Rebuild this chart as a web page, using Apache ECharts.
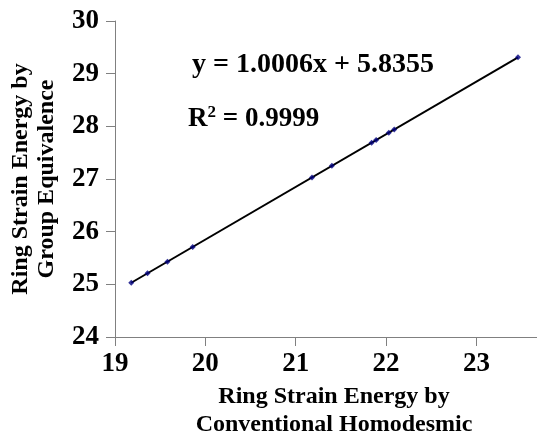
<!DOCTYPE html>
<html>
<head>
<meta charset="utf-8">
<script src="https://cdn.jsdelivr.net/npm/echarts@6/dist/echarts.min.js"></script>
<style>html,body{margin:0;padding:0;background:#fff;}#chart{width:537px;height:431px;}</style>
</head>
<body>
<div id="chart"></div>
<script>
const xValues = [19.18, 19.36, 19.58, 19.86, 21.18, 21.40, 21.84, 21.89, 22.03, 22.09, 23.46];
const yValues = [25.03, 25.21, 25.43, 25.71, 27.03, 27.25, 27.69, 27.74, 27.88, 27.94, 29.31];
const trendX = [19.18, 23.46];
const trendY = [25.03, 29.31];
const xTicks = [19, 20, 21, 22, 23];
const yTicks = [24, 25, 26, 27, 28, 29, 30];
const xAxisName = 'Ring Strain Energy by\nConventional Homodesmic';
const yAxisName = 'Ring Strain Energy by\nGroup Equivalence';
const equationText = 'y = 1.0006x + 5.8355';
const r2Value = '0.9999';

const FONT = '"Liberation Serif", "Times New Roman", serif';
const chart = echarts.init(document.getElementById('chart'), null, {renderer: 'canvas'});
chart.setOption({
  animation: false,
  backgroundColor: '#ffffff',
  grid: {left: 115, right: 0, top: 21, bottom: 94, containLabel: false, outerBoundsMode: 'none'},
  xAxis: {
    type: 'value', min: 19, max: 23.67, interval: 1,
    axisLine: {show: true, lineStyle: {color: '#808080', width: 1}},
    axisTick: {show: true, length: 9, customValues: xTicks, lineStyle: {color: '#808080'}},
    axisLabel: {customValues: xTicks, margin: 14, color: '#000', fontFamily: FONT, fontWeight: 'bold', fontSize: 27},
    splitLine: {show: false},
    name: xAxisName, nameLocation: 'middle', nameGap: 44,
    nameTextStyle: {color: '#000', fontFamily: FONT, fontWeight: 'bold', fontSize: 24, lineHeight: 28, padding: [0, 0, 0, 16]}
  },
  yAxis: {
    type: 'value', min: 24, max: 30, interval: 1,
    axisLine: {show: true, lineStyle: {color: '#808080', width: 1}},
    axisTick: {show: true, length: 9, customValues: yTicks, lineStyle: {color: '#808080'}},
    axisLabel: {customValues: yTicks, margin: 16, color: '#000', fontFamily: FONT, fontWeight: 'bold', fontSize: 27},
    splitLine: {show: false},
    name: yAxisName, nameLocation: 'middle', nameGap: 55,
    nameTextStyle: {color: '#000', fontFamily: FONT, fontWeight: 'bold', fontSize: 24, lineHeight: 26}
  },
  graphic: [
    {type: 'text', left: 192, top: 51, style: {text: equationText, fill: '#000', font: 'bold 28px ' + FONT}},
    {type: 'text', left: 188, top: 104, style: {
      text: '{a|R}{s|2}{a| = ' + r2Value + '}',
      rich: {
        a: {fill: '#000', fontFamily: FONT, fontWeight: 'bold', fontSize: 27, verticalAlign: 'bottom'},
        s: {fill: '#000', fontFamily: FONT, fontWeight: 'bold', fontSize: 17, verticalAlign: 'top', padding: [0, 0, 12, 0]}
      }
    }}
  ],
  series: [
    {
      type: 'line', data: trendX.map((x, i) => [x, trendY[i]]),
      showSymbol: false, lineStyle: {color: '#000', width: 2}, silent: true, z: 2
    },
    {
      type: 'scatter', data: xValues.map((x, i) => [x, yValues[i]]),
      symbol: 'diamond', symbolSize: 6, itemStyle: {color: '#000080'}, z: 3
    }
  ]
});
</script>
</body>
</html>
